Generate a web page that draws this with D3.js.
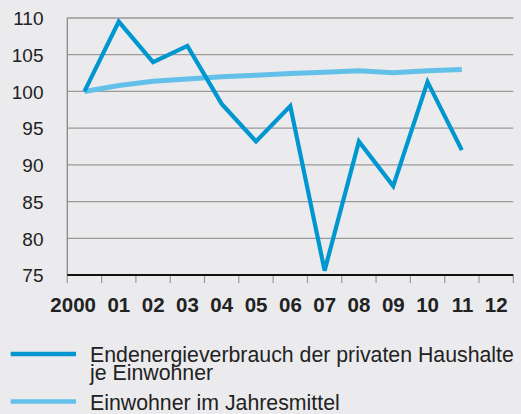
<!DOCTYPE html>
<html><head><meta charset="utf-8">
<script src="https://cdn.jsdelivr.net/npm/d3@7"></script>
<style>
html,body{margin:0;padding:0;background:#ebebed;}
svg{display:block;font-family:"Liberation Sans",Arial,Helvetica,sans-serif;}
</style></head>
<body>
<svg id="c" width="521" height="414"></svg>
<script>
const years = [2000,2001,2002,2003,2004,2005,2006,2007,2008,2009,2010,2011,2012];
const yearLabels = ["2000","01","02","03","04","05","06","07","08","09","10","11","12"];
const energyYears = [2000,2001,2002,2003,2004,2005,2006,2007,2008,2009,2010,2011];
const energyValues = [100,109.5,104.0,106.2,98.3,93.2,98.0,75.6,93.2,87.1,101.3,92.0];
const popValues = [100,100.8,101.4,101.7,102.0,102.2,102.45,102.6,102.8,102.55,102.8,103.0];
const yTicks = [75,80,85,90,95,100,105,110];
const legendLabels = [["Endenergieverbrauch der privaten Haushalte","je Einwohner"],["Einwohner im Jahresmittel"]];
const colors = ["#0097d1","#63c1e9"];

const svg = d3.select("#c");
const x = d3.scaleBand().domain(years).range([67.3,513.3]).padding(0);
const y = d3.scaleLinear().domain([75,110]).range([275,18]);

// gridlines
svg.append("g").selectAll("line").data(yTicks.filter(d=>d>75)).join("line")
  .attr("x1",67.3).attr("x2",513.3).attr("y1",d=>y(d)).attr("y2",d=>y(d))
  .attr("stroke","#9a9a9a").attr("stroke-width",1.3);
// y axis line
svg.append("line").attr("x1",67.3).attr("x2",67.3).attr("y1",y(110)).attr("y2",y(75))
  .attr("stroke","#8a8a8a").attr("stroke-width",1.3);
// y labels
svg.append("g").selectAll("text").data(yTicks).join("text")
  .attr("x",43.5).attr("y",d=>y(d)+7.3).attr("text-anchor","end")
  .attr("font-size",19).attr("fill","#222").text(d=>d);
// x ticks
const tickPos = years.map(d=>x(d)).concat([x(2012)+x.bandwidth()]);
svg.append("g").selectAll("line").data(tickPos).join("line")
  .attr("x1",d=>d).attr("x2",d=>d).attr("y1",275).attr("y2",283)
  .attr("stroke","#999").attr("stroke-width",1.2);
// bottom axis line
svg.append("line").attr("x1",67.3).attr("x2",513.3).attr("y1",y(75)).attr("y2",y(75))
  .attr("stroke","#111").attr("stroke-width",2);
// x labels
svg.append("g").selectAll("text").data(years).join("text")
  .attr("x",(d)=>x(d)+x.bandwidth()/2+11.5).attr("y",311.5).attr("text-anchor","end")
  .attr("font-size",20.5).attr("font-weight","bold").attr("fill","#222")
  .text((d,i)=>yearLabels[i]);

const line = d3.line().x(d=>x(d[0])+x.bandwidth()/2).y(d=>y(d[1]));
svg.append("path").datum(energyYears.map((d,i)=>[d,popValues[i]]))
  .attr("d",line).attr("fill","none").attr("stroke",colors[1]).attr("stroke-width",5);
svg.append("path").datum(energyYears.map((d,i)=>[d,energyValues[i]]))
  .attr("d",line).attr("fill","none").attr("stroke",colors[0]).attr("stroke-width",4.2)
  .attr("stroke-linejoin","miter");

// legend
const lg = svg.append("g");
const legY = [354,401.5];
legendLabels.forEach((lines,i)=>{
  lg.append("line").attr("x1",10.7).attr("x2",76).attr("y1",legY[i]).attr("y2",legY[i])
    .attr("stroke",colors[i]).attr("stroke-width",4.5);
});
const base = [[361.5,380],[410]];
legendLabels.forEach((lines,i)=>{
  lines.forEach((t,j)=>{
    lg.append("text").attr("x",90).attr("y",base[i][j]).attr("font-size",21.3)
      .attr("fill","#222").text(t);
  });
});
</script>
</body></html>
